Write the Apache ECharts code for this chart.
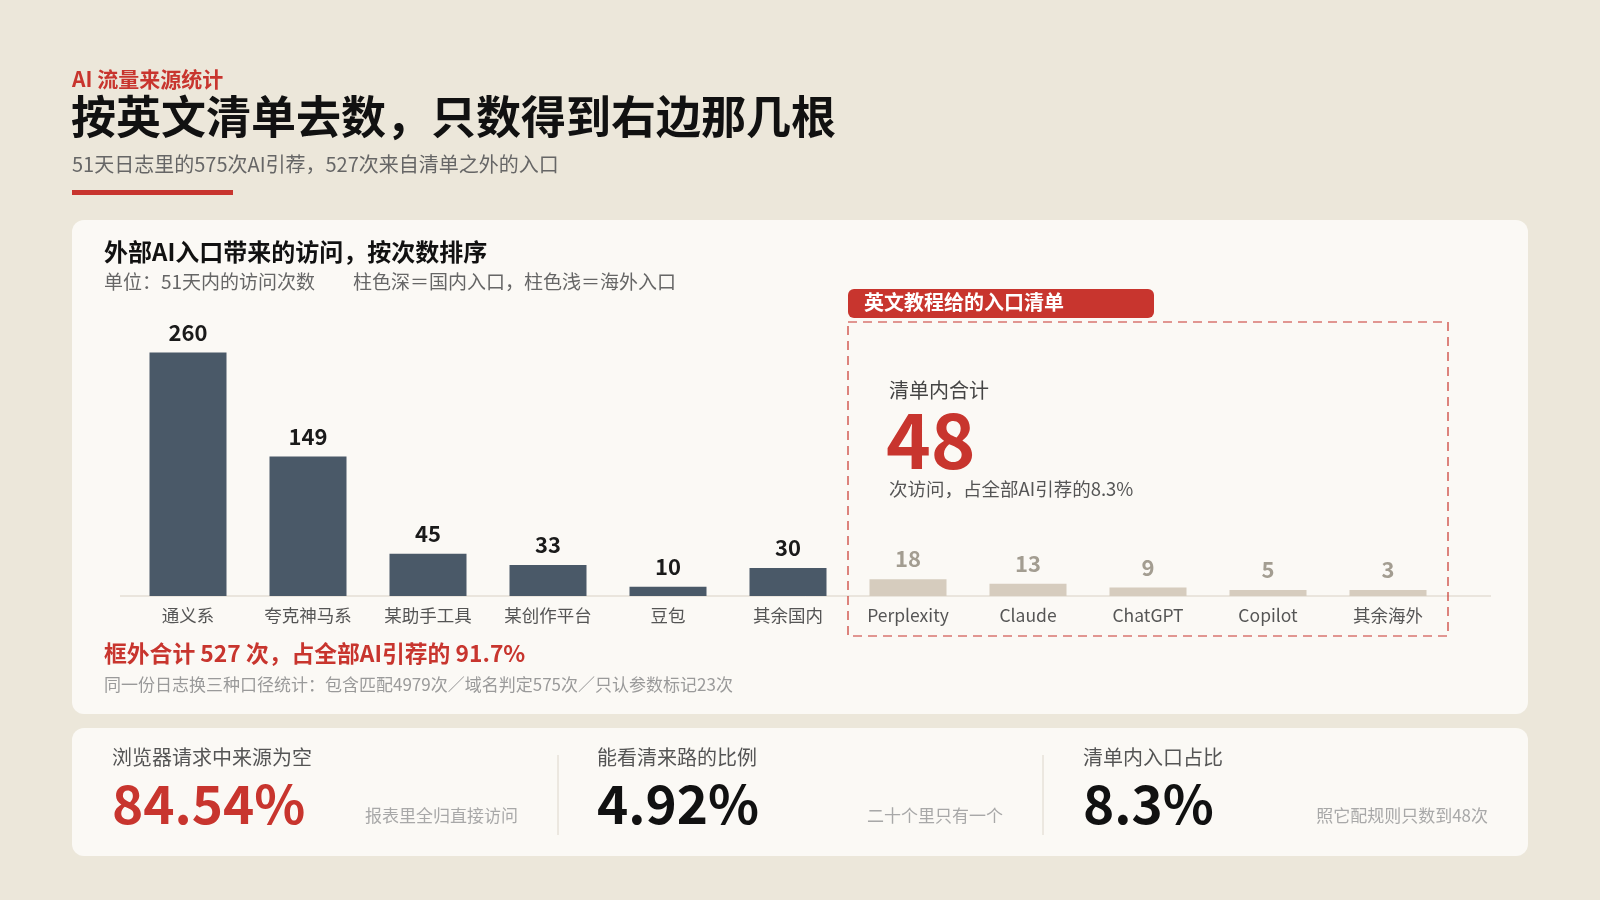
<!DOCTYPE html>
<html>
<head>
<meta charset="utf-8">
<script src="https://cdn.jsdelivr.net/npm/echarts@6/dist/echarts.min.js"></script>
<style>
  html, body { margin: 0; padding: 0; background: #ece7da; }
  #main { width: 1600px; height: 900px; }
</style>
</head>
<body>
<div id="main"></div>
<script>
var chart = echarts.init(document.getElementById('main'));

// 数据
var categories = ['通义系', '夸克神马系', '某助手工具', '某创作平台', '豆包', '其余国内',
                  'Perplexity', 'Claude', 'ChatGPT', 'Copilot', '其余海外'];
var visits = [260, 149, 45, 33, 10, 30, 18, 13, 9, 5, 3];
var isDomestic = [1, 1, 1, 1, 1, 1, 0, 0, 0, 0, 0];

var statLabels = ['浏览器请求中来源为空', '能看清来路的比例', '清单内入口占比'];
var statValues = ['84.54%', '4.92%', '8.3%'];
var statNotes = ['报表里全归直接访问', '二十个里只有一个', '照它配规则只数到48次'];

var RED = '#c8352e';
var DARK = '#4a5968';
var LIGHT = '#d6ccbe';
var FONT = '"Noto Sans CJK SC", "Noto Sans", sans-serif';

var barData = visits.map(function (v, i) {
  return {
    value: v,
    itemStyle: { color: isDomestic[i] ? DARK : LIGHT },
    label: { color: isDomestic[i] ? '#1a1a1a' : '#a39d91' }
  };
});

function txt(x, y, text, size, color, weight) {
  return {
    type: 'text', left: x, top: y, z: 10,
    style: {
      text: text, fontSize: size, fill: color, fontFamily: FONT,
      fontWeight: weight || 'normal'
    }
  };
}

var graphics = [
  // 卡片背景
  { type: 'rect', shape: { x: 72, y: 220, width: 1456, height: 494, r: 12 }, style: { fill: '#fbf9f5' }, z: 0 },
  { type: 'rect', shape: { x: 72, y: 728, width: 1456, height: 128, r: 12 }, style: { fill: '#fbf9f5' }, z: 0 },
  // 页头
  txt(72, 69, 'AI 流量来源统计', 21, RED, 'bold'),
  txt(71, 94, '按英文清单去数，只数得到右边那几根', 45, '#111', 'bold'),
  txt(72, 154, '51天日志里的575次AI引荐，527次来自清单之外的入口', 20, '#666'),
  { type: 'rect', shape: { x: 72, y: 190, width: 161, height: 5 }, style: { fill: RED }, z: 5 },
  // 卡片标题
  txt(104, 240, '外部AI入口带来的访问，按次数排序', 24, '#111', 'bold'),
  txt(104, 272, '单位：51天内的访问次数　　柱色深＝国内入口，柱色浅＝海外入口', 19, '#666'),
  // 基线
  { type: 'line', shape: { x1: 120, y1: 596, x2: 1491, y2: 596 }, style: { stroke: '#d9d1c5', lineWidth: 1 }, z: 3 },
  // 清单框
  { type: 'rect', shape: { x: 848, y: 322, width: 600, height: 314 },
    style: { fill: 'none', stroke: RED, lineWidth: 1.2, lineDash: [9, 6] }, z: 4 },
  { type: 'rect', shape: { x: 848, y: 289, width: 306, height: 29, r: 6 }, style: { fill: RED }, z: 5 },
  txt(864, 292, '英文教程给的入口清单', 20, '#fff', 'bold'),
  txt(889, 380, '清单内合计', 20, '#444'),
  txt(886, 402, '48', 76, RED, 'bold'),
  txt(889, 480, '次访问，占全部AI引荐的8.3%', 18.5, '#555'),
  // 框外说明
  txt(104, 642, '框外合计 527 次，占全部AI引荐的 91.7%', 22.8, RED, 'bold'),
  txt(104, 676, '同一份日志换三种口径统计：包含匹配4979次／域名判定575次／只认参数标记23次', 17, '#9a9a9a'),
  // 分隔线
  { type: 'line', shape: { x1: 558, y1: 755, x2: 558, y2: 835 }, style: { stroke: '#ddd6cb', lineWidth: 1 } },
  { type: 'line', shape: { x1: 1043, y1: 755, x2: 1043, y2: 835 }, style: { stroke: '#ddd6cb', lineWidth: 1 } }
];

var statX = [112, 597, 1083];
var noteRight = [518, 1003, 1488];
statLabels.forEach(function (s, i) {
  graphics.push(txt(statX[i], 747, s, 20, '#555'));
  graphics.push(txt(statX[i], 777, statValues[i], 53, i === 0 ? RED : '#111', 'bold'));
  graphics.push({
    type: 'text', right: 1600 - noteRight[i], top: 807, z: 10,
    style: { text: statNotes[i], fontSize: 17, fill: '#a8a8a8', fontFamily: FONT }
  });
});

var option = {
  backgroundColor: '#ece7da',
  textStyle: { fontFamily: FONT },
  grid: { left: 128, right: 152, top: 315, bottom: 304, containLabel: false },
  xAxis: {
    type: 'category',
    data: categories,
    axisLine: { show: false },
    axisTick: { show: false },
    axisLabel: { color: '#555', fontSize: 17.5, margin: 11, fontFamily: FONT }
  },
  yAxis: {
    type: 'value', min: 0, max: 300,
    show: false, splitLine: { show: false }
  },
  series: [{
    type: 'bar',
    data: barData,
    barWidth: 77,
    barMinHeight: 6,
    z: 5,
    label: {
      show: true, position: 'top', distance: 9,
      fontSize: 22, fontWeight: 'bold', fontFamily: FONT
    }
  }],
  graphic: graphics
};

chart.setOption(option);
</script>
</body>
</html>
